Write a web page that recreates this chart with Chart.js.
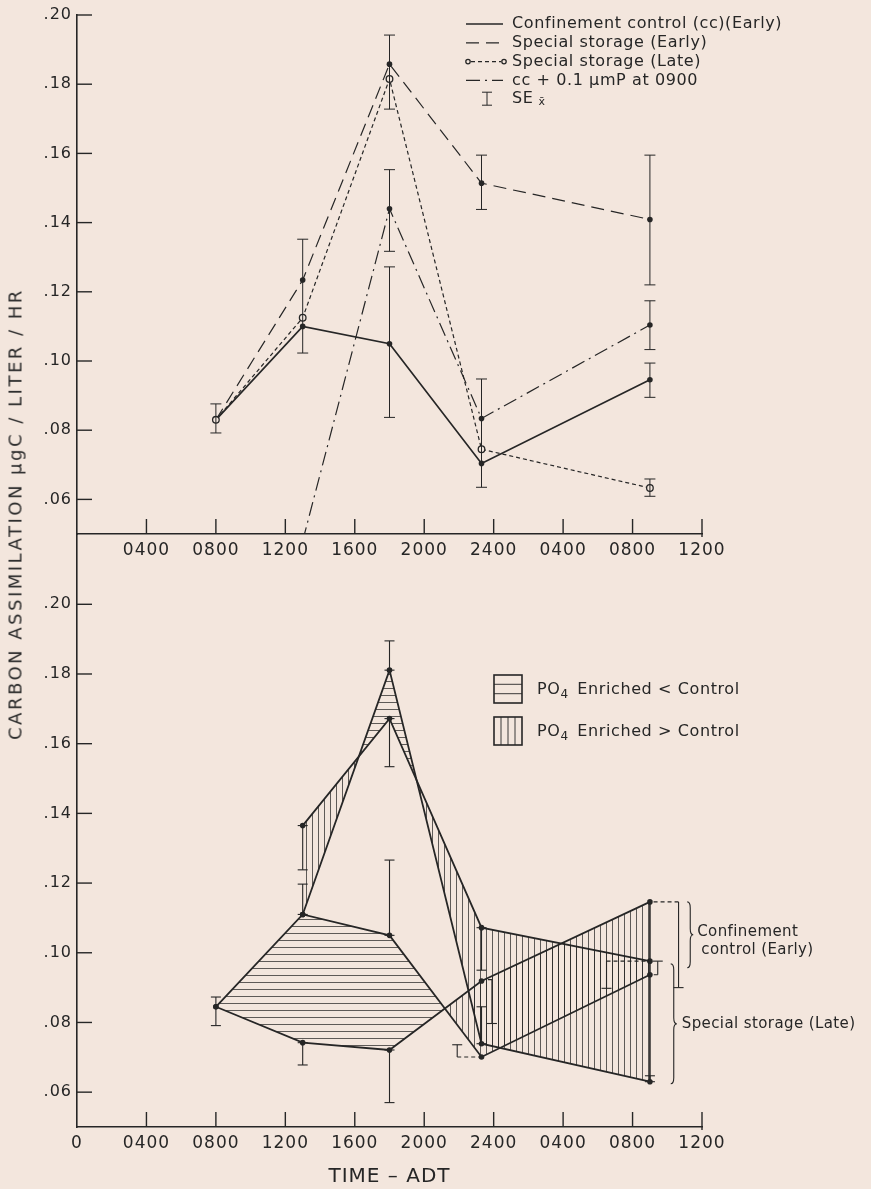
<!DOCTYPE html>
<html>
<head>
<meta charset="utf-8">
<title>Carbon assimilation</title>
<script src="https://cdn.jsdelivr.net/npm/chart.js@4.4.1/dist/chart.umd.min.js"></script>
<style>
  body { margin: 0; background: #f3e6dd; }
  #page { position: relative; width: 871px; height: 1189px; overflow: hidden; }
  #page canvas { position: absolute; left: 0; }
  #topChart { top: 0; }
  #bottomChart { top: 520px; }
  #yTitle {
    position: absolute; left: 15px; top: 514px;
    transform: translate(-50%, -50%) rotate(-90deg);
    white-space: nowrap;
    font: 18px 'DejaVu Sans', sans-serif;
    letter-spacing: 2.5px;
    color: #2a2a2a;
  }
</style>
</head>
<body>
<div id="page">
  <canvas id="topChart" width="871" height="580"></canvas>
  <canvas id="bottomChart" width="871" height="669"></canvas>
  <div id="yTitle">CARBON ASSIMILATION μgC / LITER / HR</div>
</div>
<script>
const ink = '#262626';
const paper = '#f3e6dd';
const font = "'DejaVu Sans', sans-serif";

// hours after midnight of day one (0800, 1300, 1800, ~2320, 0900 next day)
const sampleHours = [8, 13, 18, 23.3, 33];
const phosHours = [13, 18, 23.3, 33];

// upper panel
const ccEarly = [0.083, 0.110, 0.105, 0.0704, 0.0946];
const storageEarly = [0.083, 0.1234, 0.1858, 0.1514, 0.1409];
const storageLate = [0.083, 0.1125, 0.1815, 0.0745, 0.0633];
const ccPhos = [0.048, 0.144, 0.0834, 0.1104];
// [hour, low, high]
const topSE = [
  [8, 0.0792, 0.0876], [13, 0.1023, 0.1352],
  [18, 0.1728, 0.1942], [18, 0.1317, 0.1553], [18, 0.0837, 0.1272],
  [23.3, 0.1438, 0.1595], [23.3, 0.0635, 0.0948],
  [33, 0.1220, 0.1595], [33, 0.1033, 0.1174], [33, 0.0895, 0.0994], [33, 0.0609, 0.0659]
];

// lower panel
const lowHours = [8, 13, 18, 23.3, 33];
const lowControl = [0.0845, 0.111, 0.105, 0.0701, 0.0937];
const lowEnriched = [0.0845, 0.0742, 0.0721, 0.0919, 0.1146];
const lateHours = [13, 18, 23.3, 33];
const lateControl = [0.111, 0.1811, 0.0739, 0.063];
const lateEnriched = [0.1365, 0.1672, 0.1072, 0.0976];
const lowSE = [
  [8, 0.0791, 0.0873], [13, 0.1238, 0.1365], [13, 0.111, 0.1197], [13, 0.0678, 0.0742],
  [18, 0.1811, 0.1895], [18, 0.1534, 0.1672], [18, 0.105, 0.1266], [18, 0.057, 0.0721],
  [23.3, 0.095, 0.1072], [23.3, 0.0739, 0.0845], [33, 0.063, 0.0647]
];
// [bar hour, low, high, point hour, dashed end]
const lowOffsetSE = [
  [23.9, 0.0797, 0.0923, 23.3, 'hi'], [21.9, 0.0701, 0.0736, 23.3, 'lo'],
  [34.65, 0.090, 0.1146, 33, 'hi'], [33.45, 0.0937, 0.0976, 33, 'lo'],
  [30.5, 0.0898, 0.0976, 33, 'hi']
];
const lowEdges = [[33, 0.063, 0.1146]];
const braces = [
  [35.15, 0.0957, 0.1146, ['Confinement', 'control (Early)']],
  [34.2, 0.0624, 0.0968, ['Special storage (Late)']]
];

const xTickHours = [0, 4, 8, 12, 16, 20, 24, 28, 32, 36];
const topXLabels = ['', '0400', '0800', '1200', '1600', '2000', '2400', '0400', '0800', '1200'];
const bottomXLabels = ['0', '0400', '0800', '1200', '1600', '2000', '2400', '0400', '0800', '1200'];
const yTickValues = [0.06, 0.08, 0.10, 0.12, 0.14, 0.16, 0.18, 0.20];
const yTickLabels = ['.06', '.08', '.10', '.12', '.14', '.16', '.18', '.20'];

const pts = (hours, vals) => vals.map((v, i) => ({ x: hours[i], y: v }));

function seg(ctx, x1, y1, x2, y2) {
  ctx.beginPath();
  ctx.moveTo(x1, y1);
  ctx.lineTo(x2, y2);
  ctx.stroke();
}

// wider letter spacing, like the typewriter-era lettering
const spacing = {
  id: 'spacing',
  beforeDraw(chart, args, opts) {
    chart.ctx.letterSpacing = opts.value;
  }
};

const innerTicks = {
  id: 'innerTicks',
  afterDraw(chart, args, opts) {
    const { ctx, chartArea: a, scales: { x, y } } = chart;
    ctx.save();
    ctx.strokeStyle = ink;
    ctx.lineWidth = 1.4;
    x.ticks.forEach(t => {
      if (t.value === x.min) return;
      const px = x.getPixelForValue(t.value);
      seg(ctx, px, a.bottom + (t.value === x.max ? 3 : 0), px, a.bottom - opts.len);
    });
    y.ticks.forEach(t => {
      const py = y.getPixelForValue(t.value);
      seg(ctx, a.left, py, a.left + opts.len, py);
    });
    ctx.restore();
  }
};

const errorBars = {
  id: 'errorBars',
  afterDatasetsDraw(chart, args, opts) {
    const { ctx, scales: { x, y } } = chart;
    const cap = opts.cap;
    ctx.save();
    ctx.strokeStyle = ink;
    ctx.lineWidth = opts.width;
    (opts.bars || []).forEach(([h, lo, hi]) => {
      const px = x.getPixelForValue(h), p1 = y.getPixelForValue(lo), p2 = y.getPixelForValue(hi);
      seg(ctx, px, p1, px, p2);
      seg(ctx, px - cap, p1, px + cap, p1);
      seg(ctx, px - cap, p2, px + cap, p2);
    });
    (opts.offset || []).forEach(([h, lo, hi, ph, dashed]) => {
      const px = x.getPixelForValue(h), pp = x.getPixelForValue(ph);
      const pLo = y.getPixelForValue(lo), pHi = y.getPixelForValue(hi);
      const capY = dashed === 'hi' ? pLo : pHi;
      const dashY = dashed === 'hi' ? pHi : pLo;
      seg(ctx, px, pLo, px, pHi);
      seg(ctx, px - cap, capY, px + cap, capY);
      ctx.setLineDash([4, 3]);
      seg(ctx, px, dashY, pp, dashY);
      ctx.setLineDash([]);
    });
    ctx.lineWidth = 1.6;
    (opts.edges || []).forEach(([h, lo, hi]) => {
      const px = x.getPixelForValue(h);
      seg(ctx, px, y.getPixelForValue(lo), px, y.getPixelForValue(hi));
    });
    ctx.restore();
  }
};

const topLegend = {
  id: 'topLegend',
  afterDraw(chart) {
    const { ctx } = chart;
    ctx.save();
    ctx.font = `16px ${font}`;
    ctx.letterSpacing = '0.6px';
    ctx.fillStyle = ink;
    ctx.strokeStyle = ink;
    ctx.textBaseline = 'middle';
    chart.data.datasets.forEach((ds, i) => {
      const yy = 24 + i * 18.8;
      ctx.lineWidth = 1.3;
      ctx.setLineDash(ds.borderDash || []);
      if (ds.pointBackgroundColor === paper) {
        seg(ctx, 471, yy, 501, yy);
        ctx.setLineDash([]);
        [468, 504].forEach(cx => {
          ctx.beginPath();
          ctx.arc(cx, yy, 2.2, 0, Math.PI * 2);
          ctx.fillStyle = paper;
          ctx.fill();
          ctx.stroke();
        });
        ctx.fillStyle = ink;
      } else {
        seg(ctx, 466, yy, 503, yy);
      }
      ctx.setLineDash([]);
      ctx.fillText(ds.label, 512, yy);
    });
    // SE row
    const yy = 24 + 4 * 18.8;
    ctx.lineWidth = 1;
    seg(ctx, 487, yy - 7, 487, yy + 6);
    seg(ctx, 482, yy - 7, 492, yy - 7);
    seg(ctx, 482, yy + 6, 492, yy + 6);
    ctx.fillText('SE', 512, yy);
    const w = ctx.measureText('SE').width;
    ctx.font = `11px ${font}`;
    ctx.fillText('x\u0304', 512 + w + 5, yy + 3);
    ctx.restore();
  }
};

function drawBrace(ctx, x, top, bot, w) {
  const mid = (top + bot) / 2;
  const r = Math.min(w, (bot - top) / 4);
  ctx.beginPath();
  ctx.moveTo(x, top);
  ctx.quadraticCurveTo(x + w / 2, top, x + w / 2, top + r);
  ctx.lineTo(x + w / 2, mid - r);
  ctx.quadraticCurveTo(x + w / 2, mid, x + w, mid);
  ctx.quadraticCurveTo(x + w / 2, mid, x + w / 2, mid + r);
  ctx.lineTo(x + w / 2, bot - r);
  ctx.quadraticCurveTo(x + w / 2, bot, x, bot);
  ctx.stroke();
}

const bottomLegend = {
  id: 'bottomLegend',
  afterDraw(chart) {
    const { ctx, scales: { x, y } } = chart;
    ctx.save();
    ctx.strokeStyle = ink;
    ctx.fillStyle = ink;
    ctx.textBaseline = 'middle';
    ctx.letterSpacing = '0.6px';
    // hatch key boxes
    const keys = [
      { top: 155, text: ' Enriched < Control', vertical: false },
      { top: 197, text: ' Enriched > Control', vertical: true }
    ];
    keys.forEach(k => {
      ctx.lineWidth = 1.6;
      ctx.strokeRect(494, k.top, 28, 28);
      ctx.lineWidth = 0.9;
      if (k.vertical) {
        [7, 14, 21].forEach(d => seg(ctx, 494 + d, k.top, 494 + d, k.top + 28));
      } else {
        [9.3, 18.7].forEach(d => seg(ctx, 494, k.top + d, 522, k.top + d));
      }
      const ty = k.top + 15;
      ctx.font = `16px ${font}`;
      ctx.fillText('PO', 537, ty);
      let tx = 537 + ctx.measureText('PO').width;
      ctx.font = `12px ${font}`;
      ctx.fillText('4', tx, ty + 5);
      tx += ctx.measureText('4').width + 3;
      ctx.font = `16px ${font}`;
      ctx.fillText(k.text, tx, ty);
    });
    // braces with their labels
    ctx.lineWidth = 1.1;
    ctx.font = `15px ${font}`;
    ctx.letterSpacing = '0.4px';
    braces.forEach(([h, lo, hi, lines]) => {
      const bx = x.getPixelForValue(h);
      const top = y.getPixelForValue(hi), bot = y.getPixelForValue(lo);
      drawBrace(ctx, bx, top, bot, 6);
      const mid = (top + bot) / 2;
      if (lines.length > 1) {
        lines.forEach((t, j) => ctx.fillText(t, bx + 10 + j * 4, mid - 3 + j * 18));
      } else {
        ctx.fillText(lines[0], bx + 11, mid);
      }
    });
    ctx.restore();
  }
};

function makeScales(xLabels, yMax, xHeight, titleText) {
  return {
    x: {
      type: 'linear', min: 0, max: 36,
      afterBuildTicks: s => { s.ticks = xTickHours.map(v => ({ value: v })); },
      afterFit: s => { s.height = xHeight; },
      grid: { drawOnChartArea: false, drawTicks: false },
      border: { color: ink, width: 1.6 },
      ticks: {
        color: ink, padding: 6, maxRotation: 0, autoSkip: false,
        font: { family: font, size: 17 },
        callback: (v, i) => xLabels[i]
      },
      title: {
        display: !!titleText, text: titleText || '', color: ink,
        font: { family: font, size: 20 }, padding: { top: 0, bottom: 0 }
      }
    },
    y: {
      type: 'linear', min: 0.05, max: yMax,
      afterBuildTicks: s => { s.ticks = yTickValues.map(v => ({ value: v })); },
      afterFit: s => { s.width = 77; },
      grid: { drawOnChartArea: false, drawTicks: false },
      border: { color: ink, width: 1.6 },
      ticks: {
        color: ink, padding: 5,
        font: { family: font, size: 16 },
        callback: (v, i) => yTickLabels[i]
      }
    }
  };
}

const baseOptions = {
  responsive: false,
  animation: false,
  events: [],
  elements: { line: { tension: 0 } }
};

new Chart(document.getElementById('topChart'), {
  type: 'line',
  data: {
    datasets: [
      {
        label: 'Confinement control (cc)(Early)', data: pts(sampleHours, ccEarly),
        borderColor: ink, borderWidth: 1.7, borderDash: [],
        pointRadius: 2.8, pointBackgroundColor: ink, pointBorderWidth: 0, order: 1
      },
      {
        label: 'Special storage (Early)', data: pts(sampleHours, storageEarly),
        borderColor: ink, borderWidth: 1.2, borderDash: [13, 7],
        pointRadius: 2.8, pointBackgroundColor: ink, pointBorderWidth: 0, order: 1
      },
      {
        label: 'Special storage (Late)', data: pts(sampleHours, storageLate),
        borderColor: ink, borderWidth: 1.2, borderDash: [4, 3],
        pointRadius: 3.3, pointBackgroundColor: paper, pointBorderColor: ink, pointBorderWidth: 1.3, order: 0
      },
      {
        label: 'cc + 0.1 μmP at 0900', data: pts(phosHours, ccPhos),
        borderColor: ink, borderWidth: 1.2, borderDash: [14, 5, 2, 5],
        pointRadius: 2.8, pointBackgroundColor: ink, pointBorderWidth: 0, order: 1
      }
    ]
  },
  options: {
    ...baseOptions,
    layout: { padding: { left: 0, right: 169, top: 15, bottom: 0 } },
    scales: makeScales(topXLabels, 0.20, 46, null),
    plugins: {
      legend: { display: false },
      tooltip: { enabled: false },
      spacing: { value: '1px' },
      innerTicks: { len: 15 },
      errorBars: { bars: topSE, cap: 5.5, width: 1 }
    }
  },
  plugins: [spacing, innerTicks, errorBars, topLegend]
});

const bottomCtx = document.getElementById('bottomChart').getContext('2d');
function hatch(vertical) {
  const tile = document.createElement('canvas');
  tile.width = vertical ? 6 : 8;
  tile.height = vertical ? 8 : 7;
  const c = tile.getContext('2d');
  c.strokeStyle = 'rgba(30, 30, 30, 0.7)';
  c.lineWidth = 1;
  c.beginPath();
  if (vertical) { c.moveTo(0.5, 0); c.lineTo(0.5, 8); }
  else { c.moveTo(0, 0.5); c.lineTo(8, 0.5); }
  c.stroke();
  return bottomCtx.createPattern(tile, 'repeat');
}
const enrichedAbove = hatch(true);
const enrichedBelow = hatch(false);

const lowLine = { borderColor: ink, borderWidth: 1.8, pointRadius: 2.8, pointBackgroundColor: ink, pointBorderWidth: 0 };

new Chart(bottomCtx, {
  type: 'line',
  data: {
    datasets: [
      { ...lowLine, label: 'Confinement control (Early)', data: pts(lowHours, lowControl), fill: false },
      {
        ...lowLine, label: 'Confinement control (Early) + PO4', data: pts(lowHours, lowEnriched),
        fill: { target: 0, above: enrichedAbove, below: enrichedBelow }
      },
      { ...lowLine, label: 'Special storage (Late)', data: pts(lateHours, lateControl), fill: false },
      {
        ...lowLine, label: 'Special storage (Late) + PO4', data: pts(lateHours, lateEnriched),
        fill: { target: 2, above: enrichedAbove, below: enrichedBelow }
      }
    ]
  },
  options: {
    ...baseOptions,
    layout: { padding: { left: 0, right: 169, top: 14, bottom: 0 } },
    scales: makeScales(bottomXLabels, 0.22, 62, 'TIME – ADT'),
    plugins: {
      legend: { display: false },
      tooltip: { enabled: false },
      spacing: { value: '1px' },
      innerTicks: { len: 15 },
      errorBars: { bars: lowSE, offset: lowOffsetSE, edges: lowEdges, cap: 5, width: 1.1 }
    }
  },
  plugins: [spacing, innerTicks, errorBars, bottomLegend]
});
</script>
</body>
</html>
